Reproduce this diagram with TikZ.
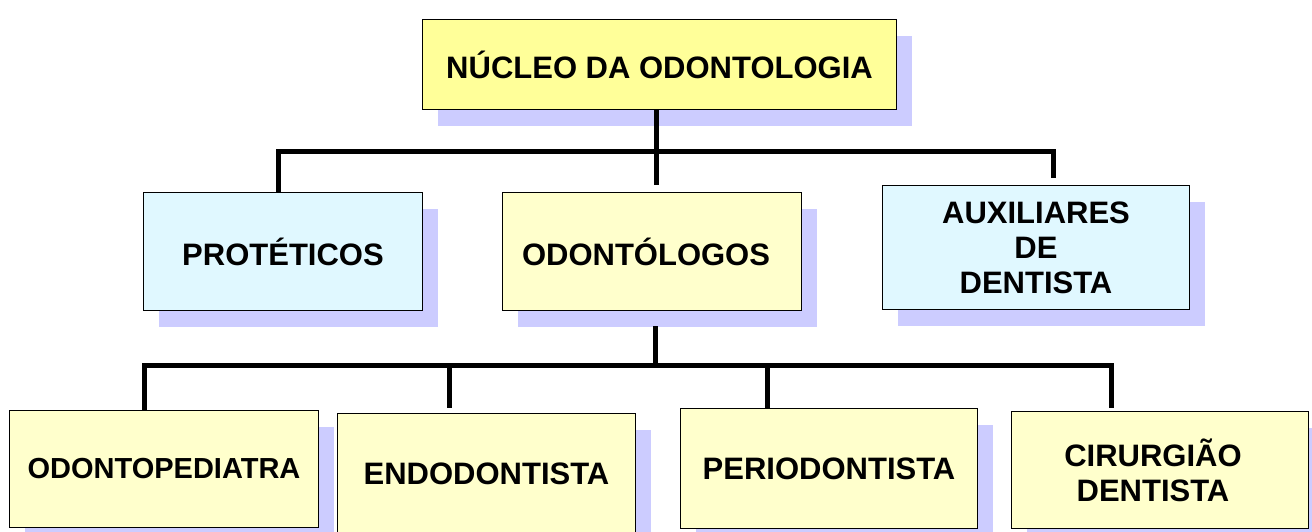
\documentclass[tikz,border=0pt]{standalone}
\usepackage{fontspec}
\setmainfont{Liberation Sans}
\usetikzlibrary{shadows}
\definecolor{nucfill}{HTML}{FFFF99}
\definecolor{ylwfill}{HTML}{FFFFCC}
\definecolor{cynfill}{HTML}{E0F8FF}
\definecolor{shadowc}{HTML}{CCCCFF}
\begin{document}
\begin{tikzpicture}[x=1pt,y=-1pt,
  box/.style={draw=black, line width=1.6pt, rectangle, inner sep=0pt, align=center,
    font=\fontsize{31}{35}\selectfont\bfseries,
    general shadow={fill=shadowc, shadow xshift=15pt, shadow yshift=-16pt}},
  ylw/.style={box, fill=ylwfill},
  cyn/.style={box, fill=cynfill},
  conn/.style={draw=black, line width=5pt, line join=miter}]
\clip (0,0) rectangle (1312,531);
% nodes
\node[box, fill=nucfill, minimum width=474pt, minimum height=90pt] (nuc) at (659.5,64.5) {NÚCLEO DA ODONTOLOGIA};
\node[cyn, minimum width=279pt, minimum height=118pt] (pro) at (283,251.5) {PROTÉTICOS};
\node[ylw, minimum width=299pt, minimum height=118pt] (odo) at (652,251.5) {ODONTÓLOGOS\kern12pt};
\node[cyn, minimum width=307pt, minimum height=124pt] (aux) at (1036,247.5) {AUXILIARES\\DE\\DENTISTA};
\node[ylw, minimum width=309pt, minimum height=117pt, font=\fontsize{29}{33}\selectfont\bfseries] (ped) at (164,469) {ODONTOPEDIATRA};
\node[ylw, minimum width=298pt, minimum height=121pt] (endo) at (486.5,474) {ENDODONTISTA};
\node[ylw, minimum width=297pt, minimum height=120pt] (per) at (829,468.5) {PERIODONTISTA};
\node[ylw, minimum width=297pt, minimum height=117pt] (cir) at (1160,470) {CIRURGIÃO\kern14pt\\DENTISTA\kern14pt};
% buses
\coordinate (bus1) at (656,151);
\coordinate (bus2) at (655,365);
% connectors
\draw[conn] (nuc.south -| bus1) -- ([yshift=7pt]odo.north -| bus1);
\draw[conn] ([xshift=-5pt]pro.north) |- (bus1) -| ([xshift=17pt,yshift=7pt]aux.north);
\draw[conn] ([yshift=-15pt]odo.south -| bus2) -- (bus2);
\draw[conn] ([xshift=-20pt]ped.north) |- (bus2) -| ([xshift=-49pt,yshift=3pt]cir.north);
\draw[conn] ([xshift=-37.5pt,yshift=5pt]endo.north) |- (bus2);
\draw[conn] ([xshift=-62pt]per.north) |- (bus2);
\end{tikzpicture}
\end{document}
